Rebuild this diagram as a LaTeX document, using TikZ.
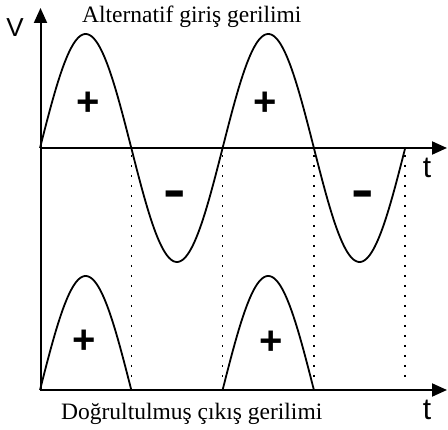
\documentclass[tikz,border=0pt]{standalone}
\usepackage{fontspec}
\setmainfont{Liberation Serif}
\setsansfont{Liberation Sans}
\usetikzlibrary{arrows.meta}
\begin{document}
\begin{tikzpicture}[x=1pt,y=-1pt,
  ax/.style={line width=2pt, -{Triangle[length=15pt,width=13pt]}},
  wave/.style={line width=1.8pt},
  dots/.style={line width=1.6pt, dash pattern=on 1.6pt off 8.4pt},
  sign/.style={font=\sffamily\bfseries\fontsize{40}{40}\selectfont, inner sep=0},
  minus/.style={font=\sffamily\bfseries\fontsize{52}{52}\selectfont, inner sep=0},
  axlab/.style={font=\sffamily\fontsize{30}{30}\selectfont, inner sep=0},
  ttl/.style={font=\fontsize{23.5}{23.5}\selectfont, inner sep=0, anchor=base west}]
\useasboundingbox (0,0) rectangle (448,430);
% axes
\coordinate (O) at (40.5,391);
\coordinate (Ytip) at (40.5,8);
\coordinate (U0) at (40,148);
\coordinate (Utip) at (447,148);
\coordinate (L0) at (40,390);
\coordinate (Ltip) at (447,390);
\draw[ax] (O) -- (Ytip);
\draw[ax] (U0) -- (Utip);
\draw[ax] (L0) -- (Ltip);
% dotted guides
\foreach \k in {1,2,3,4}{
  \draw[dots] ({40+91.3*\k},155) -- ({40+91.3*\k},384);
}
% input wave
\draw[wave] plot[domain=0:2, samples=241, smooth] ({40+182.6*\x},{148-114*sin(360*\x)});
% rectified output
\draw[wave] plot[domain=0:0.5, samples=81, smooth] ({40+182.6*\x},{390-114*sin(360*\x)});
\draw[wave] plot[domain=1:1.5, samples=81, smooth] ({40+182.6*\x},{390-114*sin(360*\x)});
% signs
\node[sign] (p1) at (88,104) {+};
\node[sign] (p2) at (265,104) {+};
\node[minus] (m1) at (175,199) {\scalebox{1.3}[1]{-}};
\node[minus] (m2) at (363,199) {\scalebox{1.3}[1]{-}};
\node[sign] (p3) at (84,342) {+};
\node[sign] (p4) at (271,343) {+};
% labels
\node[axlab, font=\sffamily\fontsize{26}{26}\selectfont] (V) at (15,28) {V};
\node[axlab] (t1) at (427,168) {t};
\node[axlab] (t2) at (427,410) {t};
\node[ttl] (tin) at (82,23) {Alternatif giriş gerilimi};
\node[ttl] (tout) at (61,420) {Doğrultulmuş çıkış gerilimi};
\end{tikzpicture}
\end{document}
